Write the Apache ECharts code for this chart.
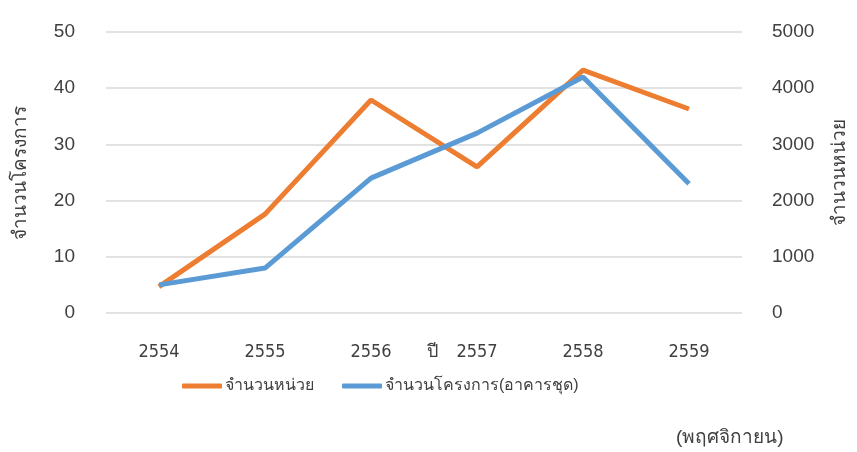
<!DOCTYPE html>
<html>
<head>
<meta charset="utf-8">
<script src="https://cdn.jsdelivr.net/npm/echarts@6/dist/echarts.min.js"></script>
<style>
  html, body { margin: 0; padding: 0; background: #fff; }
  #main { width: 857px; height: 452px; }
</style>
</head>
<body>
<div id="main"></div>
<script>
// ปี (พ.ศ.)
var years = ['2554', '2555', '2556', '2557', '2558', '2559']
// จำนวนหน่วย - แกนขวา
var units = [470, 1760, 3790, 2600, 4320, 3630]
// จำนวนโครงการ(อาคารชุด) - แกนซ้าย
var projects = [5, 8, 24, 32, 42, 23]

var textColor = '#404040'
var chart = echarts.init(document.getElementById('main'))
var option = {
    animation: false,
    color: ['#ED7D31', '#5B9BD5'],
    grid: { left: 106, right: 114, top: 32, bottom: 139 },
    legend: {
        top: 378,
        left: 182,
        padding: 0,
        itemWidth: 40,
        itemHeight: 5,
        itemGap: 28,
        icon: 'roundRect',
        textStyle: { fontSize: 16, color: textColor, padding: [0, 0, 0, -2] },
        data: ['จำนวนหน่วย', 'จำนวนโครงการ(อาคารชุด)']
    },
    xAxis: {
        type: 'category',
        data: years,
        name: 'ปี',
        nameLocation: 'middle',
        nameGap: 30,
        nameMoveOverlap: false,
        nameTextStyle: { fontSize: 18, color: textColor, padding: [0, 0, 0, 16] },
        axisLine: { show: false },
        axisTick: { show: false },
        axisLabel: { margin: 30, fontSize: 18, fontFamily: 'DejaVu Sans Condensed', color: textColor }
    },
    yAxis: [
        {
            type: 'value',
            min: 0, max: 50, interval: 10,
            name: 'จำนวนโครงการ',
            nameLocation: 'middle',
            nameGap: 76,
            nameTextStyle: { fontSize: 19, color: textColor },
            axisLabel: { margin: 31, fontSize: 19, color: textColor },
            splitLine: { lineStyle: { color: '#d9d9d9', width: 1.5 } }
        },
        {
            type: 'value',
            min: 0, max: 5000, interval: 1000,
            name: 'จำนวนหน่วย',
            nameLocation: 'middle',
            nameGap: 88,
            nameTextStyle: { fontSize: 19, color: textColor },
            axisLabel: { margin: 30, fontSize: 19, color: textColor, formatter: function (v) { return String(v) } },
            splitLine: { show: false }
        }
    ],
    series: [
        {
            name: 'จำนวนหน่วย',
            type: 'line',
            yAxisIndex: 1,
            data: units,
            symbol: 'none',
            lineStyle: { width: 5 }
        },
        {
            name: 'จำนวนโครงการ(อาคารชุด)',
            type: 'line',
            yAxisIndex: 0,
            data: projects,
            symbol: 'none',
            lineStyle: { width: 5 }
        }
    ],
    graphic: [
        {
            type: 'text',
            left: 676,
            top: 428,
            style: { text: '(พฤศจิกายน)', fontSize: 19, fill: textColor }
        }
    ]
}
chart.setOption(option)
</script>
</body>
</html>
